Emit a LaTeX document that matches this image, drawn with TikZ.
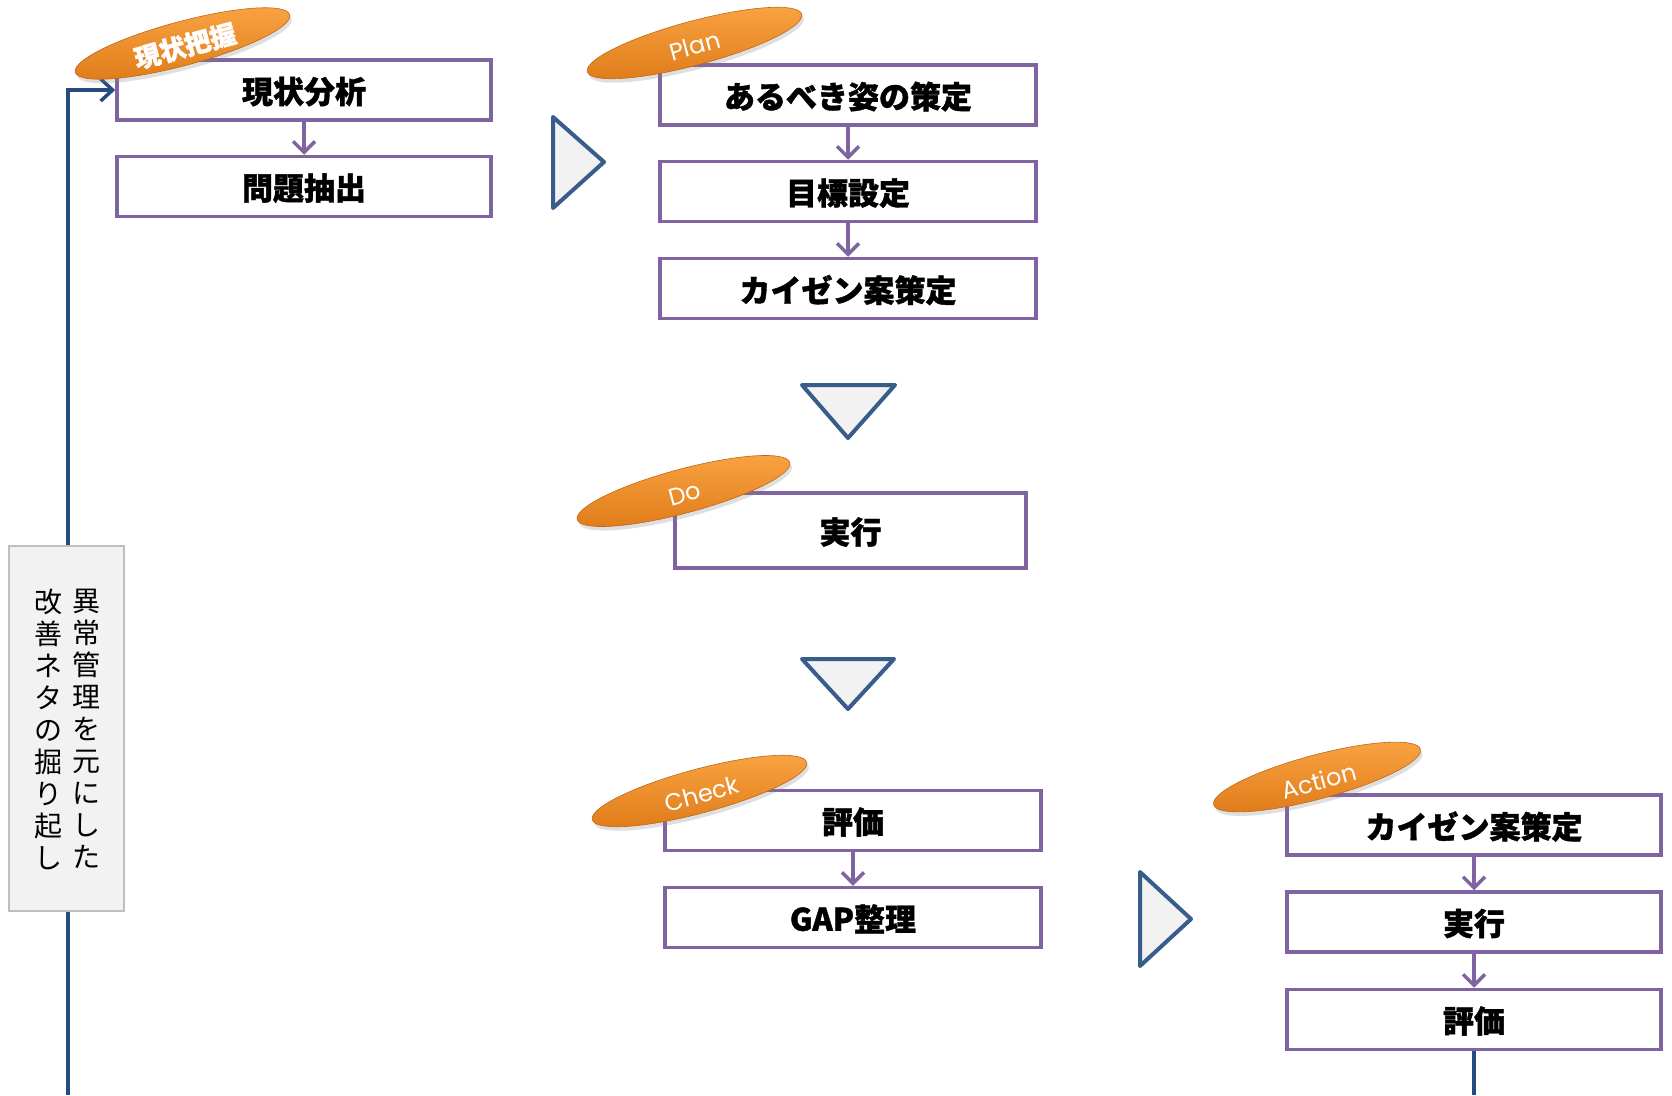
\documentclass[tikz,border=0pt]{standalone}
\usepackage{fontspec}
\newfontfamily\jp{Noto Sans CJK JP}[BoldFeatures={FakeBold=1.2}]
\newfontfamily\lat{Poppins}
\usetikzlibrary{arrows.meta,shapes.geometric,shadows}
\definecolor{boxpurple}{HTML}{8064A2}
\definecolor{triblue}{HTML}{385D8A}
\definecolor{lineblue}{HTML}{264B80}
\definecolor{trifill}{HTML}{F2F2F2}
\definecolor{notegray}{HTML}{BFBFBF}
\definecolor{orL}{HTML}{FAA443}
\definecolor{orM}{HTML}{F7941D}
\definecolor{orD}{HTML}{E07C1A}
\definecolor{orE}{HTML}{C0661A}
\tikzset{
  stepbox/.style={draw=boxpurple, line width=3.5pt, fill=white, inner sep=0pt,
    minimum width=375pt, minimum height=60pt, text depth=-2pt,
    font=\jp\bfseries\fontsize{31}{31}\selectfont},
  flow/.style={draw=boxpurple, line width=3.5pt,
    -{Straight Barb[length=11pt,width=22pt,line width=3.5pt]}},
  tri/.style={draw=triblue, line width=4pt, line join=round, fill=trifill},
  pill/.style={ellipse, rotate=15, minimum width=222pt, minimum height=44pt, inner sep=0pt,
    top color=orL, middle color=orM, bottom color=orD, draw=orE, line width=0.6pt,
    drop shadow={opacity=0.25, shadow xshift=2pt, shadow yshift=-4pt},
    text=white},
  pilltext/.style={rotate=15, text=white, inner sep=0pt, font=\lat\fontsize{24}{24}\selectfont},
  blueline/.style={draw=lineblue, line width=3.5pt},
}
\begin{document}
\begin{tikzpicture}[x=1pt,y=-1pt]
\useasboundingbox (0,0) rectangle (1672,1095);
% boxes
\node[stepbox, minimum width=374pt] (b1) at (304,90) {現状分析};
\node[stepbox, minimum width=374pt] (b2) at (304,186.5) {問題抽出};
\node[stepbox, minimum width=376pt] (p1) at (848,95) {あるべき姿の策定};
\node[stepbox, minimum width=376pt] (p2) at (848,191.5) {目標設定};
\node[stepbox, minimum width=376pt] (p3) at (848,288.5) {カイゼン案策定};
\node[stepbox, minimum width=351pt, minimum height=75pt] (d1) at (850.5,530.5) {実行};
\node[stepbox, minimum width=376pt] (c1) at (853,820.5) {評価};
\node[stepbox, minimum width=376pt] (c2) at (853,917.5) {GAP整理};
\node[stepbox, minimum width=374pt] (a1) at (1474,825) {カイゼン案策定};
\node[stepbox, minimum width=374pt] (a2) at (1474,922) {実行};
\node[stepbox, minimum width=374pt] (a3) at (1474,1019.5) {評価};
% flow arrows
\draw[flow] (b1) -- (b2);
\draw[flow] (p1) -- (p2);
\draw[flow] (p2) -- (p3);
\draw[flow] (c1) -- (c2);
\draw[flow] (a1) -- (a2);
\draw[flow] (a2) -- (a3);
% triangles
\draw[tri] (553,117) -- (604,162) -- (553,208) -- cycle;
\draw[tri] (1140,872) -- (1191,919) -- (1140,966) -- cycle;
\draw[tri] (802,385) -- (895,385) -- (848,438) -- cycle;
\draw[tri] (802,659) -- (894,659) -- (848,709) -- cycle;
% blue feedback lines
\coordinate (lb) at (68,1095);
\coordinate (rb) at (1474,1095);
\draw[blueline, -{Straight Barb[length=12pt,width=22pt,line width=3.5pt]}] (lb) |- (b1.west);
\draw[blueline] (a3.south) -- (rb);
% note box
\node[draw=notegray, line width=2pt, fill=trifill, minimum width=115pt, minimum height=365pt, inner sep=0pt] (note) at (66.5,728.5) {};
\node[align=center, inner sep=0pt, font=\jp\fontsize{28}{32}\selectfont] (n1) at (86,729) {異\\常\\管\\理\\を\\元\\に\\し\\た};
\node[align=center, inner sep=0pt, font=\jp\fontsize{28}{32}\selectfont] (n2) at (48,729) {改\\善\\ネ\\タ\\の\\掘\\り\\起\\し};
% pills
\node[pill] (e0) at (182.5,43.5) {};
\node[pill] (e1) at (694.5,43) {};
\node[pill, minimum width=220pt] (e2) at (683.5,491) {};
\node[pill] (e3) at (699.5,791) {};
\node[pill, minimum width=214pt] (e4) at (1317,777) {};
\node[pilltext, font=\jp\bfseries\fontsize{26}{26}\selectfont] (t0) at (185,46) {現状把握};
\node[pilltext] (t1) at (695,46) {Plan};
\node[pilltext] (t2) at (685,494) {Do};
\node[pilltext] (t3) at (702,794) {Check};
\node[pilltext] (t4) at (1319,781) {Action};
\end{tikzpicture}
\end{document}
